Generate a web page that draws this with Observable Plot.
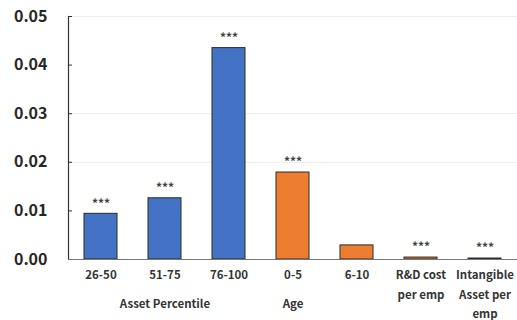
<!DOCTYPE html>
<html>
<head>
<meta charset="utf-8">
<script src="https://cdn.jsdelivr.net/npm/d3@7"></script>
<script src="https://cdn.jsdelivr.net/npm/@observablehq/plot@0.6"></script>
<style>
  html, body { margin: 0; padding: 0; background: #fff; }
  #chart { width: 517px; height: 320px; }
</style>
</head>
<body>
<div id="chart"></div>
<script>
const categories = ["26-50", "51-75", "76-100", "0-5", "6-10", "R&D cost\nper emp", "Intangible\nAsset per\nemp"];
const values = [0.0094, 0.0126, 0.0435, 0.0179, 0.0029, 0.0004, 0.0002];
const groups = ["Asset", "Asset", "Asset", "Age", "Age", "Other", "Other"];
const stars = ["***", "***", "***", "***", "", "***", "***"];
const yTicks = [0, 0.01, 0.02, 0.03, 0.04, 0.05];
const gridTicks = [0.02, 0.03, 0.05];
const groupLabels = ["Asset Percentile", "Age"];
const groupLabelAt = ["51-75", "0-5"];

const data = categories.map((c, i) => ({cat: c, value: values[i], group: groups[i], star: stars[i]}));
const groupData = groupLabels.map((g, i) => ({label: g, at: groupLabelAt[i]}));

const W = 517, H = 320, ML = 68, MR = 0, MT = 16, MB = 61;
const font = "'Noto Sans CJK KR', 'Noto Sans', sans-serif";

const chart = Plot.plot({
  width: W, height: H,
  marginLeft: ML, marginRight: MR, marginTop: MT, marginBottom: MB,
  style: {fontFamily: font, background: "#fff", overflow: "visible"},
  x: {domain: categories, paddingInner: 0.485, paddingOuter: 0.24, label: null},
  y: {domain: [0, 0.05], label: null},
  color: {domain: ["Asset", "Age", "Other"], range: ["#4472C4", "#ED7D31", "#ED7D31"]},
  marks: [
    Plot.ruleY(gridTicks, {y: d => d, stroke: "#ececec", strokeWidth: 1}),
    Plot.barY(data, {x: "cat", y: "value", fill: "group", stroke: "#2b2b2b", strokeWidth: 1}),
    Plot.text(data, {x: "cat", y: "value", text: "star", dy: -10, fontSize: 12, fill: "#404040", fontWeight: "bold"}),
    Plot.axisY({ticks: yTicks, tickFormat: d3.format(".2f"), tickSize: 0, tickPadding: 21, fontSize: 16, fontWeight: 600, fill: "#262626"}),
    Plot.tickY(yTicks, {y: d => d, stroke: "#333", insetRight: W - ML - MR - 4}),
    Plot.frame({anchor: "left", stroke: "#333", strokeWidth: 1.2}),
    Plot.ruleY([0], {stroke: "#777", strokeWidth: 1}),
    Plot.axisX({tickSize: 0, tickPadding: 6, fontSize: 11.5, fontWeight: "bold", fill: "#333", lineHeight: 1.7}),
    Plot.text(groupData, {x: "at", y: 0, text: "label", dy: 45, fontSize: 11.5, fontWeight: "bold", fill: "#333"})
  ]
});
document.getElementById("chart").appendChild(chart);
</script>
</body>
</html>
